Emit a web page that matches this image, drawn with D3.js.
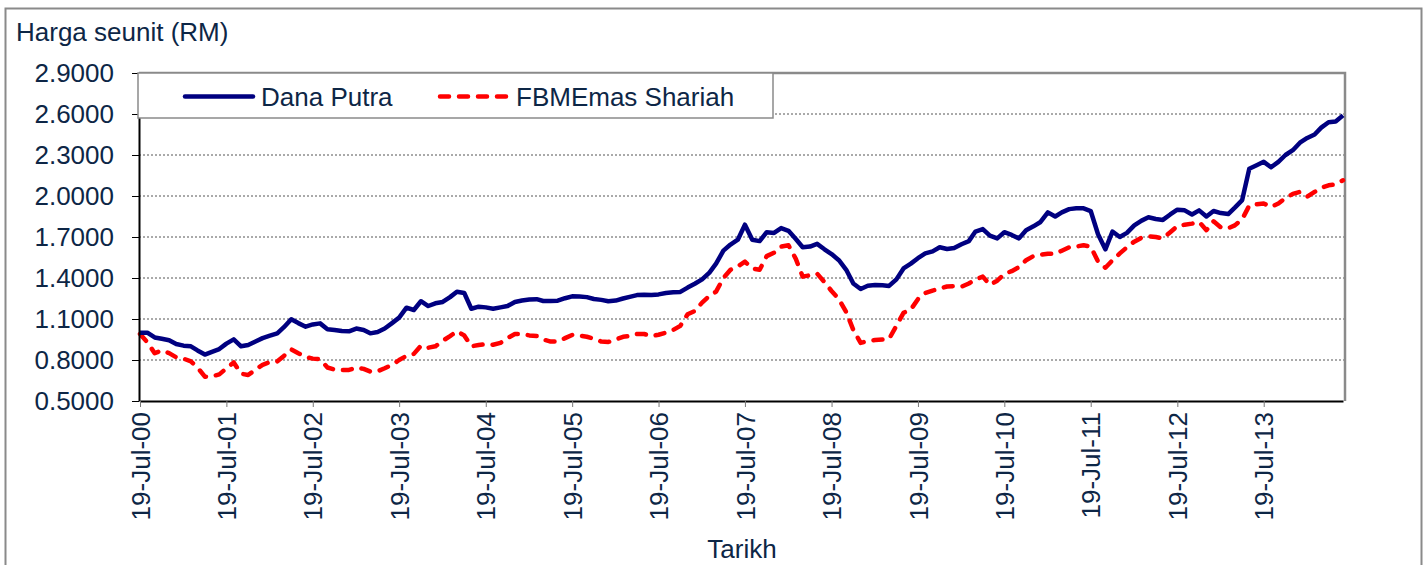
<!DOCTYPE html>
<html>
<head>
<meta charset="utf-8">
<script src="https://cdn.jsdelivr.net/npm/d3@7"></script>
<style>
  body { margin: 0; background: #fff; }
  text { font-family: "Liberation Sans", Arial, sans-serif; }
</style>
</head>
<body>
<div id="chart"></div>
<script>
// page size
const width = 1425;
const height = 565;

// first price date, monthly after that
const startDate = '19-Jul-00';

// x axis labels
const tickLabels = ['19-Jul-00', '19-Jul-01', '19-Jul-02', '19-Jul-03', '19-Jul-04',
  '19-Jul-05', '19-Jul-06', '19-Jul-07', '19-Jul-08', '19-Jul-09', '19-Jul-10',
  '19-Jul-11', '19-Jul-12', '19-Jul-13'];

// y axis ticks
const yTicks = [0.5, 0.8, 1.1, 1.4, 1.7, 2.0, 2.3, 2.6, 2.9];

// series names
const seriesNames = ['Dana Putra', 'FBMEmas Shariah'];

// unit price, Dana Putra (monthly)
const danaPutra = [
  1.00, 1.00, 0.965, 0.955, 0.945, 0.917, 0.905, 0.90, 0.87, 0.84, 0.86, 0.88,
  0.92, 0.951, 0.90, 0.91, 0.935, 0.96, 0.978, 0.995, 1.04, 1.098, 1.07, 1.044,
  1.06, 1.068, 1.025, 1.02, 1.012, 1.01, 1.03, 1.02, 0.995, 1.005, 1.03, 1.07,
  1.11, 1.183, 1.166, 1.23, 1.195, 1.215, 1.225, 1.26, 1.30, 1.29, 1.175, 1.19,
  1.185, 1.175, 1.185, 1.195, 1.225, 1.235, 1.242, 1.245, 1.232, 1.232, 1.234, 1.252,
  1.266, 1.265, 1.26, 1.246, 1.24, 1.23, 1.235, 1.25, 1.262, 1.275, 1.278, 1.275,
  1.28, 1.29, 1.295, 1.298, 1.33, 1.358, 1.39, 1.44, 1.505, 1.60, 1.645, 1.68,
  1.79, 1.68, 1.67, 1.735, 1.73, 1.765, 1.745, 1.685, 1.625, 1.63, 1.65, 1.61,
  1.575, 1.53, 1.46, 1.36, 1.32, 1.343, 1.348, 1.347, 1.342, 1.39, 1.47, 1.505,
  1.545, 1.58, 1.595, 1.625, 1.612, 1.62, 1.647, 1.67, 1.74, 1.758, 1.71, 1.69,
  1.735, 1.715, 1.69, 1.75, 1.778, 1.81, 1.88, 1.85, 1.88, 1.904, 1.91, 1.91,
  1.89, 1.72, 1.61, 1.74, 1.70, 1.73, 1.785, 1.82, 1.844, 1.832, 1.825, 1.865,
  1.90, 1.895, 1.865, 1.895, 1.85, 1.89, 1.875, 1.868, 1.915, 1.97, 2.20, 2.225,
  2.25, 2.21, 2.25, 2.30, 2.335, 2.39, 2.425, 2.45, 2.50, 2.54, 2.545, 2.59
];

// index, FBMEmas Shariah (rebased, monthly)
const fbmEmas = [
  0.99, 0.93, 0.85, 0.87, 0.85, 0.82, 0.81, 0.79, 0.745, 0.678, 0.68, 0.695,
  0.739, 0.782, 0.70, 0.69, 0.73, 0.765, 0.785, 0.79, 0.83, 0.878, 0.85, 0.823,
  0.81, 0.805, 0.745, 0.73, 0.727, 0.727, 0.745, 0.735, 0.715, 0.718, 0.74, 0.765,
  0.80, 0.83, 0.845, 0.905, 0.89, 0.90, 0.94, 0.975, 1.01, 0.98, 0.90, 0.91,
  0.917, 0.912, 0.925, 0.96, 0.99, 0.99, 0.98, 0.975, 0.95, 0.935, 0.935, 0.96,
  0.983, 0.978, 0.97, 0.955, 0.935, 0.932, 0.95, 0.97, 0.975, 0.99, 0.99, 0.975,
  0.985, 1.00, 1.02, 1.05, 1.135, 1.158, 1.22, 1.27, 1.30, 1.40, 1.46, 1.485,
  1.52, 1.47, 1.46, 1.56, 1.585, 1.63, 1.64, 1.54, 1.41, 1.42, 1.432, 1.37,
  1.305, 1.245, 1.15, 1.02, 0.925, 0.94, 0.946, 0.95, 0.954, 1.05, 1.145, 1.17,
  1.245, 1.29, 1.308, 1.322, 1.338, 1.34, 1.336, 1.36, 1.39, 1.41, 1.35, 1.38,
  1.43, 1.45, 1.48, 1.53, 1.56, 1.57, 1.578, 1.576, 1.60, 1.625, 1.63, 1.64,
  1.63, 1.52, 1.475, 1.53, 1.58, 1.625, 1.666, 1.695, 1.706, 1.70, 1.69, 1.735,
  1.78, 1.79, 1.798, 1.81, 1.75, 1.815, 1.77, 1.764, 1.785, 1.83, 1.93, 1.94,
  1.945, 1.92, 1.945, 1.985, 2.015, 2.03, 1.995, 2.03, 2.06, 2.078, 2.085, 2.115
];

const parseDate = d3.timeParse('%d-%b-%y');
const start = parseDate(startDate);
const dates = danaPutra.map((d, i) => d3.timeMonth.offset(start, i));

const textColor = '#0d2646';
const fontSize = '26px';
const redDash = '9,10';

const svg = d3.select('#chart')
  .append('svg')
  .attr('width', width)
  .attr('height', height)
  .style('display', 'block');

// outer frame (bottom edge falls outside the picture)
svg.append('path')
  .attr('d', `M5.5,${height}V8.5H1421.5V${height}`)
  .attr('fill', 'none')
  .attr('stroke', '#8a8a8a')
  .attr('stroke-width', 2);

// plot area
const margin = { top: 73, right: 80, bottom: 164, left: 139 };
const innerWidth = width - margin.left - margin.right;   // 1206
const innerHeight = height - margin.top - margin.bottom; // 328

const g = svg.append('g')
  .attr('transform', `translate(${margin.left},${margin.top})`);

const xScale = d3.scaleTime()
  .domain([dates[0], dates[dates.length - 1]])
  .range([1, innerWidth - 2]);

const yScale = d3.scaleLinear()
  .domain([0.5, 2.9])
  .range([innerHeight, 0]);

// dotted gridlines
g.append('g')
  .selectAll('line')
  .data(yTicks.slice(1, -1))
  .enter().append('line')
    .attr('x1', 0).attr('x2', innerWidth)
    .attr('y1', d => yScale(d)).attr('y2', d => yScale(d))
    .attr('stroke', '#555')
    .attr('stroke-width', 1)
    .attr('stroke-dasharray', '2,2');

// top and right border of plot
g.append('path')
  .attr('d', `M0,0H${innerWidth}V${innerHeight}`)
  .attr('fill', 'none')
  .attr('stroke', '#8a8a8a')
  .attr('stroke-width', 2.5);

// lines
const line = d3.line()
  .x((d, i) => xScale(dates[i]))
  .y(d => yScale(d));

g.append('path')
  .datum(fbmEmas)
  .attr('d', line)
  .attr('fill', 'none')
  .attr('stroke', '#ff0000')
  .attr('stroke-width', 4.5)
  .attr('stroke-linecap', 'round')
  .attr('stroke-linejoin', 'round')
  .attr('stroke-dasharray', redDash);

g.append('path')
  .datum(danaPutra)
  .attr('d', line)
  .attr('fill', 'none')
  .attr('stroke', '#000080')
  .attr('stroke-width', 4.5)
  .attr('stroke-linejoin', 'round');

// y axis
const yAxis = g.append('g')
  .call(d3.axisLeft(yScale)
    .tickValues(yTicks)
    .tickFormat(d3.format('.4f'))
    .tickSize(7)
    .tickPadding(18)
    .tickSizeOuter(0));
yAxis.select('.domain').attr('stroke', '#000').attr('stroke-width', 2);
yAxis.selectAll('.tick line').attr('stroke', '#000');
yAxis.selectAll('text')
  .attr('fill', textColor)
  .style('font-size', fontSize)
  .style('font-family', '"Liberation Sans", Arial, sans-serif');

// x axis
const xAxis = g.append('g')
  .attr('transform', `translate(0,${innerHeight})`)
  .call(d3.axisBottom(xScale)
    .tickValues(tickLabels.map(parseDate))
    .tickFormat(d3.timeFormat('%d-%b-%y'))
    .tickSize(6)
    .tickSizeOuter(0));
xAxis.select('.domain').attr('stroke', '#000').attr('stroke-width', 2);
xAxis.selectAll('.tick line').attr('stroke', '#777');
xAxis.selectAll('text')
  .attr('transform', 'rotate(-90)')
  .attr('text-anchor', 'end')
  .attr('x', -11)
  .attr('y', 0)
  .attr('dy', '0.35em')
  .attr('fill', textColor)
  .style('font-size', fontSize)
  .style('font-family', '"Liberation Sans", Arial, sans-serif');

// axis titles
svg.append('text')
  .attr('x', 16).attr('y', 41)
  .attr('fill', textColor)
  .style('font-size', fontSize)
  .text('Harga seunit (RM)');

svg.append('text')
  .attr('x', 742).attr('y', 558)
  .attr('text-anchor', 'middle')
  .attr('fill', textColor)
  .style('font-size', fontSize)
  .text('Tarikh');

// legend
const legend = svg.append('g');
legend.append('rect')
  .attr('x', 138).attr('y', 73)
  .attr('width', 635).attr('height', 45)
  .attr('fill', '#fff')
  .attr('stroke', '#8a8a8a')
  .attr('stroke-width', 1.5);

const legendItems = [
  { name: seriesNames[0], x: 183, color: '#000080', dash: null },
  { name: seriesNames[1], x: 438, color: '#ff0000', dash: redDash }
];

legendItems.forEach(item => {
  legend.append('line')
    .attr('x1', item.x + 2).attr('x2', item.x + 70)
    .attr('y1', 96.5).attr('y2', 96.5)
    .attr('stroke', item.color)
    .attr('stroke-width', 4.5)
    .attr('stroke-linecap', 'round')
    .attr('stroke-dasharray', item.dash);
  legend.append('text')
    .attr('x', item.x + 78).attr('y', 96.5)
    .attr('dy', '0.35em')
    .attr('fill', textColor)
    .style('font-size', fontSize)
    .text(item.name);
});
</script>
</body>
</html>
